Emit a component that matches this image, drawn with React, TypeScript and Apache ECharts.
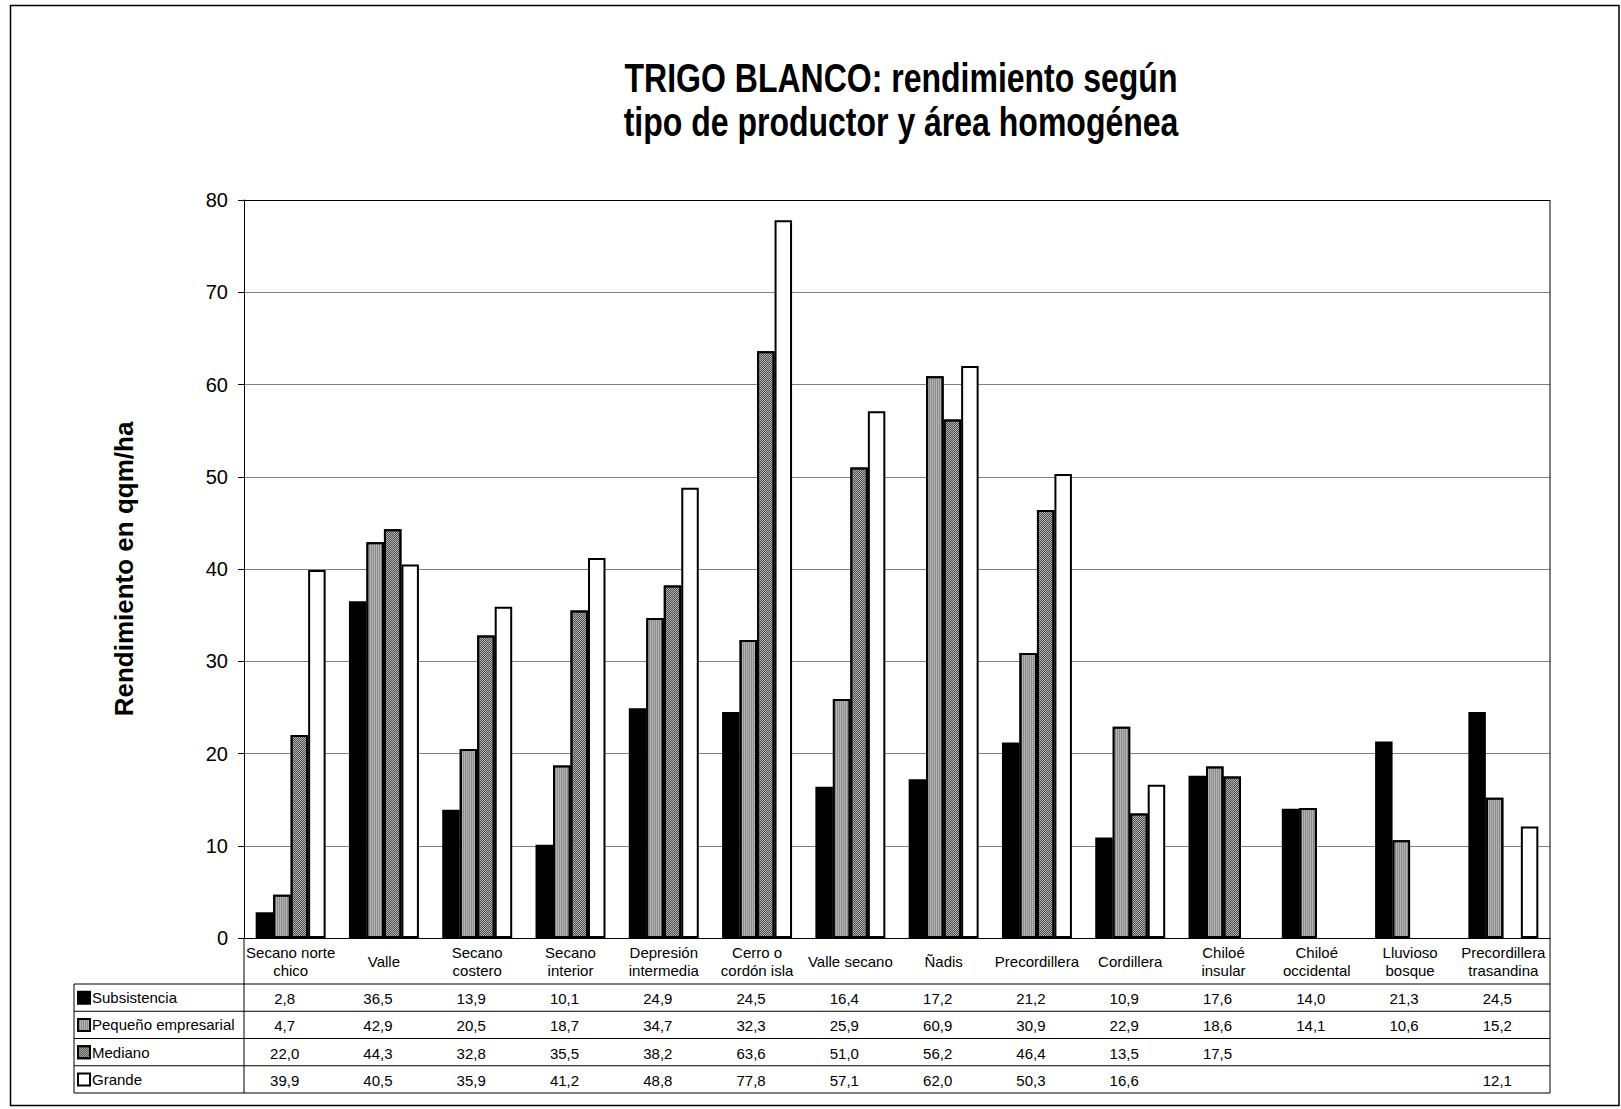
import React, { useEffect, useRef } from "react";
import * as echarts from "echarts";

const categories = [
  "Secano norte\nchico",
  "Valle",
  "Secano\ncostero",
  "Secano\ninterior",
  "Depresión\nintermedia",
  "Cerro o\ncordón isla",
  "Valle secano",
  "Ñadis",
  "Precordillera",
  "Cordillera",
  "Chiloé\ninsular",
  "Chiloé\noccidental",
  "Lluvioso\nbosque",
  "Precordillera\ntrasandina",
];
const seriesNames = ["Subsistencia", "Pequeño empresarial", "Mediano", "Grande"];
const subsistencia = [2.8, 36.5, 13.9, 10.1, 24.9, 24.5, 16.4, 17.2, 21.2, 10.9, 17.6, 14.0, 21.3, 24.5];
const pequeno = [4.7, 42.9, 20.5, 18.7, 34.7, 32.3, 25.9, 60.9, 30.9, 22.9, 18.6, 14.1, 10.6, 15.2];
const mediano = [22.0, 44.3, 32.8, 35.5, 38.2, 63.6, 51.0, 56.2, 46.4, 13.5, 17.5, null, null, null];
const grande = [39.9, 40.5, 35.9, 41.2, 48.8, 77.8, 57.1, 62.0, 50.3, 16.6, null, null, null, 12.1];
const yTicks = { min: 0, max: 80, interval: 10 };

const FONT = "'Liberation Sans', Arial, sans-serif";
const fmt = (v: number | null) => (v == null ? "" : v.toFixed(1).replace(".", ","));

// layout
const G_LEFT = 244;
const G_TOP = 200;
const G_W = 1306;
const G_H = 738;
const G_BOTTOM = G_TOP + G_H;
const G_RIGHT = G_LEFT + G_W;
const T_LEFT = 74;
const ROW_TOP = 984;
const ROW_H = 27.25;

export default function App() {
  const ref = useRef<HTMLDivElement>(null);
  useEffect(() => {
    if (!ref.current) return;
    const chart = echarts.init(ref.current, null, { renderer: "svg" });
    const allData = [subsistencia, pequeno, mediano, grande];
    const itemStyles: any[] = [
      { color: "#000000", borderColor: "#000", borderWidth: 2 },
      {
        color: "#8c8c8c",
        borderColor: "#000",
        borderWidth: 2,
        decal: { symbol: "rect", symbolSize: 1, dashArrayX: [1, 1], dashArrayY: [1, 0], color: "#b4b4b4" },
      },
      {
        color: "#b0b0b0",
        borderColor: "#000",
        borderWidth: 2,
        decal: {
          symbol: "rect",
          symbolSize: 1,
          dashArrayX: [[1, 1], [0, 1, 1, 0]],
          dashArrayY: [1, 0],
          color: "#505050",
        },
      },
      { color: "#ffffff", borderColor: "#000", borderWidth: 2 },
    ];

    const rowAxes = allData.map((arr, i) => ({
      type: "category",
      gridIndex: 0,
      position: "bottom",
      data: arr.map(fmt),
      axisLine: { show: false },
      axisTick: { show: false },
      splitLine: { show: false },
      axisLabel: {
        interval: 0,
        margin: ROW_TOP - G_BOTTOM + ROW_H * (i + 0.5) + 1,
        verticalAlign: "middle",
        fontSize: 15,
        color: "#000",
        fontFamily: FONT,
        padding: [0, 12, 0, 0],
      },
    }));

    const lines: any[] = [];
    for (let i = 0; i <= 4; i++) {
      const y = ROW_TOP + ROW_H * i;
      lines.push({
        type: "line",
        shape: { x1: T_LEFT, y1: y, x2: G_RIGHT, y2: y },
        style: { stroke: "#000", lineWidth: 1 },
        z: 10,
      });
    }
    lines.push({
      type: "line",
      shape: { x1: T_LEFT, y1: ROW_TOP, x2: T_LEFT, y2: ROW_TOP + ROW_H * 4 },
      style: { stroke: "#000", lineWidth: 1 },
      z: 10,
    });
    lines.push({
      type: "line",
      shape: { x1: G_LEFT, y1: G_BOTTOM, x2: G_LEFT, y2: ROW_TOP + ROW_H * 4 },
      style: { stroke: "#000", lineWidth: 1 },
      z: 10,
    });
    lines.push({
      type: "line",
      shape: { x1: G_RIGHT, y1: G_TOP, x2: G_RIGHT, y2: ROW_TOP + ROW_H * 4 },
      style: { stroke: "#000", lineWidth: 1 },
      z: 10,
    });

    chart.setOption({
      animation: false,
      textStyle: { fontFamily: FONT },
      grid: { left: G_LEFT, top: G_TOP, width: G_W, height: G_H, containLabel: false },
      legend: {
        orient: "vertical",
        left: 77,
        top: ROW_TOP + ROW_H / 2 - 7.5,
        padding: 0,
        itemWidth: 12,
        itemHeight: 12,
        itemGap: ROW_H - 15,
        icon: "rect",
        data: seriesNames,
        selectedMode: false,
        textStyle: { fontSize: 15, color: "#000", fontFamily: FONT, padding: [0, 0, 0, -3] },
      },
      xAxis: [
        {
          type: "category",
          data: categories,
          axisLine: { show: true, lineStyle: { color: "#000", width: 1 } },
          axisTick: { show: false },
          axisLabel: {
            interval: 0,
            margin: 23,
            verticalAlign: "middle",
            fontSize: 15,
            lineHeight: 18,
            color: "#000",
            fontFamily: FONT,
          },
        },
        ...rowAxes,
      ],
      yAxis: {
        type: "value",
        min: yTicks.min,
        max: yTicks.max,
        interval: yTicks.interval,
        name: "Rendimiento en qqm/ha",
        nameLocation: "middle",
        nameGap: 107,
        nameTextStyle: { fontSize: 26, fontWeight: "bold", color: "#000", fontFamily: FONT },
        axisLine: { show: true, lineStyle: { color: "#000", width: 1 } },
        axisTick: { show: true, length: 6, lineStyle: { color: "#000" } },
        axisLabel: { fontSize: 20, color: "#000", margin: 16, fontFamily: FONT },
        splitLine: {
          show: true,
          lineStyle: {
            color: ["#808080", "#808080", "#808080", "#808080", "#808080", "#808080", "#808080", "#808080", "#000000"],
            width: 1,
          },
        },
      },
      series: allData.map((arr, i) => ({
        name: seriesNames[i],
        type: "bar",
        data: arr,
        barGap: "0%",
        barCategoryGap: "25%",
        itemStyle: itemStyles[i],
      })),
      graphic: [
        {
          type: "rect",
          shape: { x: 10.5, y: 5.5, width: 1608.5, height: 1100 },
          style: { fill: "none", stroke: "#000", lineWidth: 1.5 },
        },
        {
          type: "text",
          x: 901,
          y: 78,
          scaleX: 0.8,
          style: {
            text: "TRIGO BLANCO: rendimiento según",
            font: `bold 40px ${FONT}`,
            fill: "#000",
            align: "center",
            verticalAlign: "middle",
          },
        },
        {
          type: "text",
          x: 901,
          y: 122,
          scaleX: 0.8,
          style: {
            text: "tipo de productor y área homogénea",
            font: `bold 40px ${FONT}`,
            fill: "#000",
            align: "center",
            verticalAlign: "middle",
          },
        },
        ...lines,
      ],
    });
    return () => chart.dispose();
  }, []);
  return (
    <div
      ref={ref}
      style={{ position: "absolute", left: 0, top: 0, width: 1621, height: 1109, background: "#fff" }}
    />
  );
}
